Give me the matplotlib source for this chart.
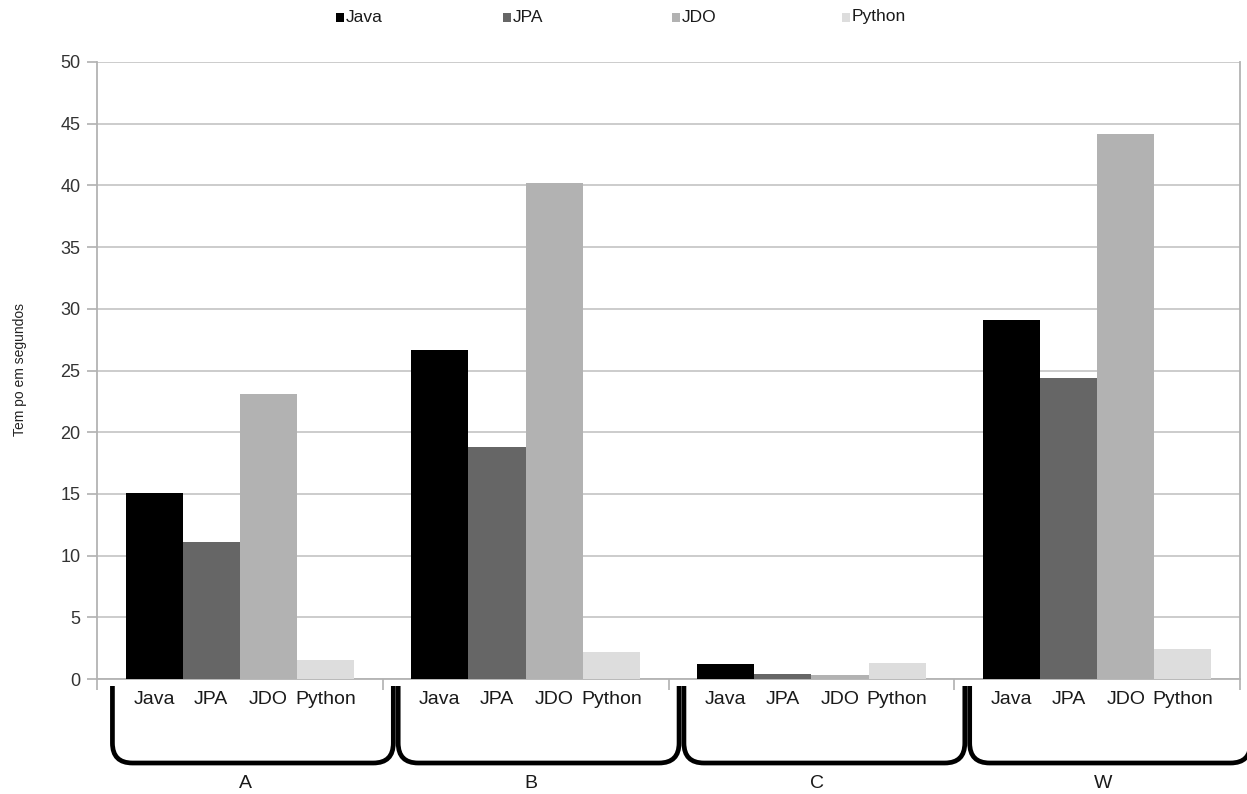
import matplotlib.pyplot as plt
import numpy as np
from matplotlib.path import Path
from matplotlib.patches import PathPatch, Rectangle
from matplotlib.transforms import blended_transform_factory

plt.rcParams['font.family'] = ['Liberation Sans', 'DejaVu Sans']

# Tempo de execução (segundos) por cenário e implementação
groups = ['A', 'B', 'C', 'W']
series = ['Java', 'JPA', 'JDO', 'Python']
java = [15.1, 26.7, 1.2, 29.1]
jpa = [11.1, 18.8, 0.4, 24.4]
jdo = [23.1, 40.2, 0.3, 44.2]
python = [1.5, 2.2, 1.3, 2.4]
values = [java, jpa, jdo, python]
colors = ['#000000', '#666666', '#b2b2b2', '#dddddd']
y_ticks = list(range(0, 51, 5))

W, H = 1247, 794
fig = plt.figure(figsize=(W / 100, H / 100), dpi=100)
ax = fig.add_axes([97 / W, 1 - 679 / H, (1240 - 97) / W, (679 - 62) / H])

x = np.arange(len(groups))
width = 0.2
for i, (name, vals, col) in enumerate(zip(series, values, colors)):
    offs = (i - 1.5) * width
    ax.bar(x + offs, vals, width, color=col, zorder=3)
    # rótulo de cada barra logo abaixo do eixo
    for xi in x:
        ax.text(xi + offs, -0.034, name, transform=ax.get_xaxis_transform(),
                ha='center', va='center', fontsize=14, color='#1a1a1a')

ax.set_xlim(-0.5, len(groups) - 0.5)
ax.set_ylim(0, 50)
ax.set_yticks(y_ticks)
ax.set_xticks(np.arange(-0.5, len(groups), 1))
ax.set_xticklabels([])
ax.tick_params(axis='x', length=8, color='#b0b0b0', width=1.2)
ax.tick_params(axis='y', length=7, color='#b0b0b0', width=1.2,
               labelsize=13, labelcolor='#333333', pad=5)
ax.grid(axis='y', color='#c8c8c8', lw=1.3, zorder=0)
for side in ['left', 'right', 'bottom']:
    ax.spines[side].set_color('#b3b3b3')
    ax.spines[side].set_linewidth(1.3)
ax.spines['top'].set_visible(False)

fig.text(20 / W, 1 - 370 / H, 'Tem po em segundos', rotation=90,
         fontsize=10, ha='center', va='center', color='#222222')

# chaves abaixo de cada grupo
trans = blended_transform_factory(ax.transData, fig.transFigure)
y_top = 1 - 686 / H
y_bot = 1 - 763 / H
rx = 0.07
ry = 20 / H
for g, name in zip(x, groups):
    x0 = g - 0.5 + 0.054
    x1 = g + 0.5 + 0.037
    verts = [(x0, y_top), (x0, y_bot + ry), (x0, y_bot), (x0 + rx, y_bot),
             (x1 - rx, y_bot), (x1, y_bot), (x1, y_bot + ry), (x1, y_top)]
    codes = [Path.MOVETO, Path.LINETO, Path.CURVE3, Path.CURVE3,
             Path.LINETO, Path.CURVE3, Path.CURVE3, Path.LINETO]
    fig.add_artist(PathPatch(Path(verts, codes), fill=False, lw=3.4,
                             edgecolor='black', transform=trans,
                             capstyle='butt', joinstyle='round', clip_on=False))
    fig.text(g + 0.02, 1 - 783 / H, name, transform=trans, ha='center',
             va='center', fontsize=14, color='#1a1a1a')

# legenda no topo
legend_x = [336, 503, 672, 842]
for lx, name, col in zip(legend_x, series, colors):
    fig.add_artist(Rectangle((lx / W, 1 - 22 / H), 8 / W, 9 / H,
                             facecolor=col, edgecolor='none',
                             transform=fig.transFigure))
    fig.text((lx + 10) / W, 1 - 17 / H, name, ha='left', va='center',
             fontsize=12.5, color='#1a1a1a')

fig.savefig('out.png', dpi=100)
